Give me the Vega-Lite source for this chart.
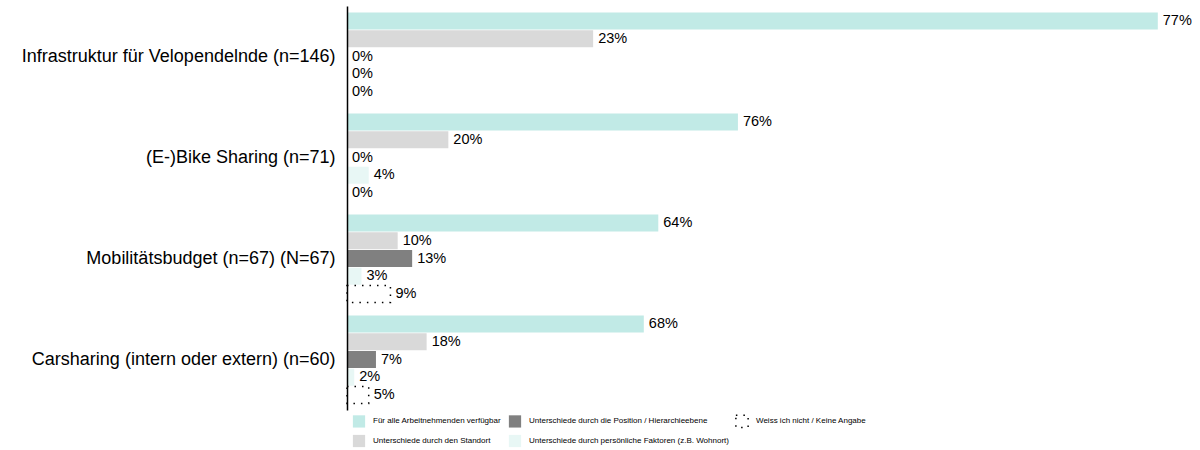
{
  "$schema": "https://vega.github.io/schema/vega-lite/v6.json",
  "width": 847,
  "height": 404,
  "autosize": "none",
  "padding": {"left": 347, "top": 6, "right": 6, "bottom": 40},
  "background": "white",
  "config": {"view": {"stroke": null}, "font": "Liberation Sans"},
  "data": {
    "values": [
      {"category": "Infrastruktur für Velopendelnde (n=146)", "series": "Für alle Arbeitnehmenden verfügbar", "order": 1, "count": 112, "pct": 0.77},
      {"category": "Infrastruktur für Velopendelnde (n=146)", "series": "Unterschiede durch den Standort", "order": 2, "count": 34, "pct": 0.23},
      {"category": "Infrastruktur für Velopendelnde (n=146)", "series": "Unterschiede durch die Position / Hierarchieebene", "order": 3, "count": 0, "pct": 0},
      {"category": "Infrastruktur für Velopendelnde (n=146)", "series": "Unterschiede durch persönliche Faktoren (z.B. Wohnort)", "order": 4, "count": 0, "pct": 0},
      {"category": "Infrastruktur für Velopendelnde (n=146)", "series": "Weiss ich nicht / Keine Angabe", "order": 5, "count": 0, "pct": 0},
      {"category": "(E-)Bike Sharing (n=71)", "series": "Für alle Arbeitnehmenden verfügbar", "order": 1, "count": 54, "pct": 0.76},
      {"category": "(E-)Bike Sharing (n=71)", "series": "Unterschiede durch den Standort", "order": 2, "count": 14, "pct": 0.20},
      {"category": "(E-)Bike Sharing (n=71)", "series": "Unterschiede durch die Position / Hierarchieebene", "order": 3, "count": 0, "pct": 0},
      {"category": "(E-)Bike Sharing (n=71)", "series": "Unterschiede durch persönliche Faktoren (z.B. Wohnort)", "order": 4, "count": 3, "pct": 0.04},
      {"category": "(E-)Bike Sharing (n=71)", "series": "Weiss ich nicht / Keine Angabe", "order": 5, "count": 0, "pct": 0},
      {"category": "Mobilitätsbudget (n=67) (N=67)", "series": "Für alle Arbeitnehmenden verfügbar", "order": 1, "count": 43, "pct": 0.64},
      {"category": "Mobilitätsbudget (n=67) (N=67)", "series": "Unterschiede durch den Standort", "order": 2, "count": 7, "pct": 0.10},
      {"category": "Mobilitätsbudget (n=67) (N=67)", "series": "Unterschiede durch die Position / Hierarchieebene", "order": 3, "count": 9, "pct": 0.13},
      {"category": "Mobilitätsbudget (n=67) (N=67)", "series": "Unterschiede durch persönliche Faktoren (z.B. Wohnort)", "order": 4, "count": 2, "pct": 0.03},
      {"category": "Mobilitätsbudget (n=67) (N=67)", "series": "Weiss ich nicht / Keine Angabe", "order": 5, "count": 6, "pct": 0.09},
      {"category": "Carsharing (intern oder extern) (n=60)", "series": "Für alle Arbeitnehmenden verfügbar", "order": 1, "count": 41, "pct": 0.68},
      {"category": "Carsharing (intern oder extern) (n=60)", "series": "Unterschiede durch den Standort", "order": 2, "count": 11, "pct": 0.18},
      {"category": "Carsharing (intern oder extern) (n=60)", "series": "Unterschiede durch die Position / Hierarchieebene", "order": 3, "count": 4, "pct": 0.07},
      {"category": "Carsharing (intern oder extern) (n=60)", "series": "Unterschiede durch persönliche Faktoren (z.B. Wohnort)", "order": 4, "count": 1, "pct": 0.02},
      {"category": "Carsharing (intern oder extern) (n=60)", "series": "Weiss ich nicht / Keine Angabe", "order": 5, "count": 3, "pct": 0.05}
    ]
  },
  "encoding": {
    "y": {
      "field": "category",
      "type": "nominal",
      "sort": ["Infrastruktur für Velopendelnde (n=146)", "(E-)Bike Sharing (n=71)", "Mobilitätsbudget (n=67) (N=67)", "Carsharing (intern oder extern) (n=60)"],
      "scale": {"paddingInner": 0.13, "paddingOuter": 0.065},
      "axis": {"title": null, "ticks": false, "labelFontSize": 18, "labelColor": "black", "labelFont": "Liberation Sans", "labelPadding": 12, "labelLimit": 500, "domainColor": "black", "domainWidth": 1.5, "zindex": 1}
    },
    "yOffset": {"field": "order", "type": "ordinal", "scale": {"paddingInner": 0.04}},
    "x": {"field": "count", "type": "quantitative", "scale": {"domain": [0, 117]}, "axis": null}
  },
  "layer": [
    {
      "transform": [{"filter": "datum.count > 0"}],
      "mark": {"type": "bar", "strokeWidth": 1.5},
      "encoding": {
        "fill": {
          "field": "series",
          "type": "nominal",
          "scale": {
            "domain": ["Für alle Arbeitnehmenden verfügbar", "Unterschiede durch die Position / Hierarchieebene", "Weiss ich nicht / Keine Angabe", "Unterschiede durch den Standort", "Unterschiede durch persönliche Faktoren (z.B. Wohnort)"],
            "range": ["#c1eae6", "#808080", "#ffffff", "#d9d9d9", "#e8f7f5"]
          },
          "legend": {
            "title": null,
            "orient": "none",
            "legendX": 5,
            "legendY": 408,
            "columns": 3,
            "direction": "horizontal",
            "columnPadding": 3,
            "rowPadding": 0,
            "symbolType": "square",
            "symbolSize": 150,
            "symbolStrokeWidth": 1.5,
            "labelFont": "Liberation Sans",
            "labelFontSize": 8,
            "labelColor": "black",
            "labelOffset": 7,
            "labelLimit": 400
          }
        },
        "stroke": {
          "field": "series",
          "type": "nominal",
          "scale": {
            "domain": ["Für alle Arbeitnehmenden verfügbar", "Unterschiede durch die Position / Hierarchieebene", "Weiss ich nicht / Keine Angabe", "Unterschiede durch den Standort", "Unterschiede durch persönliche Faktoren (z.B. Wohnort)"],
            "range": ["transparent", "transparent", "black", "transparent", "transparent"]
          },
          "legend": null
        },
        "strokeDash": {
          "field": "series",
          "type": "nominal",
          "scale": {
            "domain": ["Für alle Arbeitnehmenden verfügbar", "Unterschiede durch die Position / Hierarchieebene", "Weiss ich nicht / Keine Angabe", "Unterschiede durch den Standort", "Unterschiede durch persönliche Faktoren (z.B. Wohnort)"],
            "range": [[1, 0], [1, 0], [1.5, 6], [1, 0], [1, 0]]
          },
          "legend": null
        }
      }
    },
    {
      "mark": {"type": "text", "align": "left", "baseline": "middle", "dx": 5, "fontSize": 14.5, "color": "black", "font": "Liberation Sans"},
      "encoding": {
        "text": {"field": "pct", "type": "quantitative", "format": ".0%"}
      }
    }
  ]
}
